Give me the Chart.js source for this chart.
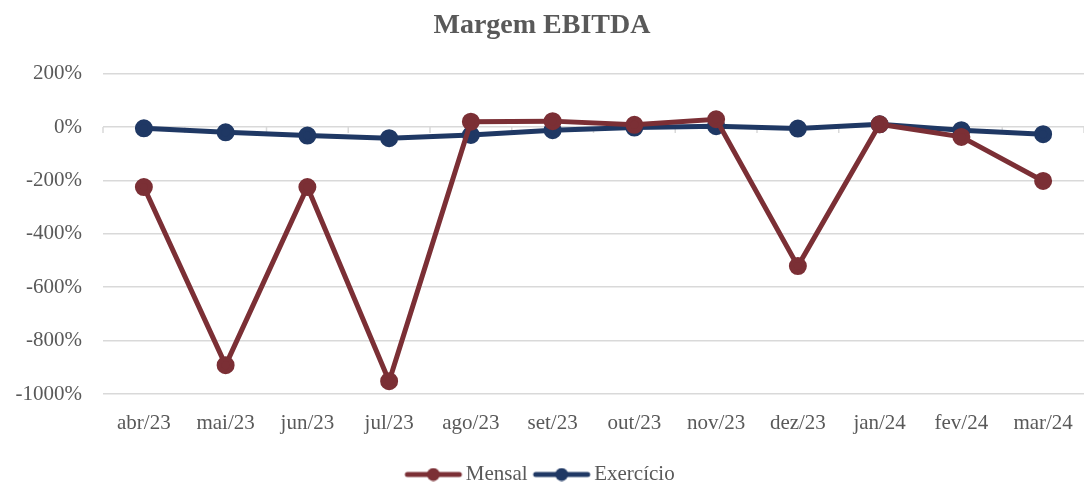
<!DOCTYPE html>
<html>
<head>
<meta charset="utf-8">
<script src="https://cdn.jsdelivr.net/npm/chart.js@4.4.1/dist/chart.umd.min.js"></script>
<style>
  html, body { margin: 0; padding: 0; background: #fff; }
  #wrap { width: 1084px; height: 482px; }
</style>
</head>
<body>
<div id="wrap"><canvas id="chart"></canvas></div>
<script>
// Data (percent)
const months = ["abr/23", "mai/23", "jun/23", "jul/23", "ago/23", "set/23",
                "out/23", "nov/23", "dez/23", "jan/24", "fev/24", "mar/24"];
const mensal = [-225, -892, -225, -952, 20, 22, 8, 29, -521, 10, -37, -202];
const exercicio = [-5, -20, -32, -42, -30, -12, -2, 3, -6, 10, -12, -27];
const yTicks = [-1000, -800, -600, -400, -200, 0, 200];

const RED = "#7b2f35";
const BLUE = "#1f3864";
const TEXT = "#595959";
const GRID = "#d9d9d9";
const FONT = "'Liberation Serif', 'DejaVu Serif', serif";

// legend glyph: line with a dot, a bit wider than its box so it sits close to the text
function legendGlyph(color) {
  const c = document.createElement("canvas");
  c.width = 62; c.height = 14;
  const g = c.getContext("2d");
  g.strokeStyle = color;
  g.lineWidth = 5;
  g.lineCap = "round";
  g.beginPath(); g.moveTo(6, 7); g.lineTo(58, 7); g.stroke();
  g.fillStyle = color;
  g.beginPath(); g.arc(32, 7, 6.5, 0, Math.PI * 2); g.fill();
  return c;
}

// tick marks on the zero line between categories, like the original axis
const zeroTicks = {
  id: "zeroTicks",
  beforeDatasetsDraw(chart) {
    const x = chart.scales.x, y = chart.scales.y;
    const y0 = y.getPixelForValue(0);
    const ctx = chart.ctx;
    const half = (x.getPixelForValue(1) - x.getPixelForValue(0)) / 2;
    ctx.save();
    ctx.strokeStyle = GRID;
    ctx.lineWidth = 1.5;
    ctx.beginPath();
    for (let i = 0; i <= months.length; i++) {
      const px = x.getPixelForValue(i) - half;
      ctx.moveTo(px, y0);
      ctx.lineTo(px, y0 + 6);
    }
    ctx.stroke();
    ctx.restore();
  }
};

new Chart(document.getElementById("chart"), {
  type: "line",
  data: {
    labels: months,
    datasets: [
      {
        label: "Mensal",
        data: mensal,
        borderColor: RED,
        backgroundColor: RED,
        borderWidth: 5,
        pointRadius: 6.5,
        pointHoverRadius: 6.5,
        tension: 0,
        clip: false,
      },
      {
        label: "Exercício",
        data: exercicio,
        borderColor: BLUE,
        backgroundColor: BLUE,
        borderWidth: 5,
        pointRadius: 6.5,
        pointHoverRadius: 6.5,
        tension: 0,
        clip: false,
      },
    ],
  },
  options: {
    responsive: true,
    maintainAspectRatio: false,
    animation: false,
    layout: { autoPadding: false, padding: { left: 0, right: 0, top: 0, bottom: -13 } },
    plugins: {
      title: {
        display: true,
        text: "Margem EBITDA",
        color: TEXT,
        font: { family: FONT, size: 28, weight: "bold" },
        padding: { top: 9, bottom: 31 },
      },
      legend: {
        position: "bottom",
        labels: {
          color: TEXT,
          font: { family: FONT, size: 21 },
          usePointStyle: true,
          pointStyleWidth: 46,
          padding: 10,
          generateLabels(chart) {
            return chart.data.datasets.map((ds, i) => ({
              text: ds.label,
              fontColor: TEXT,
              pointStyle: legendGlyph(ds.borderColor),
              datasetIndex: i,
              lineWidth: 0,
            }));
          },
        },
      },
      tooltip: { enabled: false },
    },
    scales: {
      x: {
        offset: true,
        grid: { display: false, tickLength: 17 },
        border: { display: false },
        ticks: {
          color: TEXT,
          font: { family: FONT, size: 21 },
          padding: 0,
          maxRotation: 0,
        },
        afterFit(scale) { scale.height = 60; },
      },
      y: {
        min: -1000,
        max: 200,
        afterBuildTicks(scale) {
          scale.ticks = yTicks.map(v => ({ value: v }));
        },
        grid: { color: GRID, lineWidth: 1.5, drawTicks: false },
        border: { display: false },
        ticks: {
          color: TEXT,
          font: { family: FONT, size: 21 },
          padding: 21,
          callback: v => v + "%",
        },
        afterFit(scale) { scale.width = 103; },
      },
    },
  },
  plugins: [zeroTicks],
});
</script>
</body>
</html>
